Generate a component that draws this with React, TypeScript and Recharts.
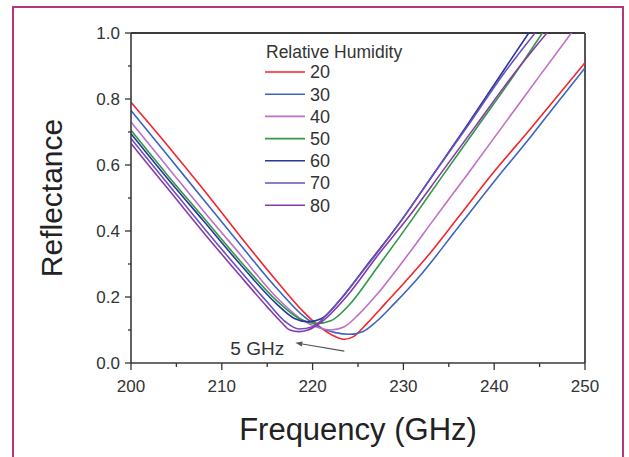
import { LineChart, Line, XAxis, YAxis, Legend, ReferenceLine, ReferenceDot, Label } from "recharts";

// relative humidity levels (%)
const humidityLevels = ["20", "30", "40", "50", "60", "70", "80"];

// frequency (GHz) / reflectance pairs
const freq20 = [200, 204, 208, 212, 216, 219, 221, 222.5, 223.5, 224.5, 226, 228, 230, 233, 236, 240, 244, 247, 250];
const refl20 = [0.79, 0.66, 0.525, 0.385, 0.25, 0.155, 0.105, 0.08, 0.072, 0.08, 0.12, 0.18, 0.24, 0.335, 0.44, 0.58, 0.71, 0.81, 0.91];

const freq30 = [200, 204, 208, 212, 216, 219, 221, 222.5, 224, 225.5, 227, 229, 232, 236, 240, 244, 247, 250];
const refl30 = [0.765, 0.63, 0.495, 0.36, 0.228, 0.142, 0.105, 0.092, 0.087, 0.095, 0.125, 0.18, 0.27, 0.41, 0.55, 0.685, 0.79, 0.894];

const freq40 = [200, 204, 208, 212, 216, 219, 220.5, 222, 223.5, 225, 227, 230, 233.3, 237, 241, 245, 248.5];
const refl40 = [0.73, 0.595, 0.46, 0.33, 0.2, 0.128, 0.108, 0.1, 0.11, 0.145, 0.205, 0.31, 0.433, 0.57, 0.72, 0.87, 1.0];

const freq50 = [200, 204, 208, 212, 216, 218.5, 220.5, 222, 224, 227, 230.9, 234, 238, 242, 245.3];
const refl50 = [0.705, 0.57, 0.44, 0.31, 0.19, 0.135, 0.12, 0.128, 0.175, 0.285, 0.433, 0.555, 0.71, 0.865, 1.0];

const freq60 = [200, 204, 208, 212, 216, 218, 219.5, 221, 223, 226, 229.8, 233, 237, 241, 243.8];
const refl60 = [0.695, 0.56, 0.43, 0.3, 0.18, 0.135, 0.125, 0.135, 0.19, 0.297, 0.433, 0.56, 0.72, 0.885, 1.0];

const freq70 = [200, 204, 208, 212, 215, 217, 218.5, 220, 222, 225, 229.8, 233, 237, 241, 244.5];
const refl70 = [0.68, 0.545, 0.41, 0.28, 0.185, 0.125, 0.103, 0.11, 0.16, 0.26, 0.433, 0.56, 0.715, 0.875, 1.0];

const freq80 = [200, 204, 208, 212, 215, 216.5, 217.5, 218.5, 219.5, 221, 224, 227, 230.5, 234, 238, 242, 245.8];
const refl80 = [0.665, 0.53, 0.395, 0.265, 0.17, 0.125, 0.1, 0.095, 0.1, 0.125, 0.21, 0.32, 0.44, 0.57, 0.72, 0.87, 1.0];

const freqs = [freq20, freq30, freq40, freq50, freq60, freq70, freq80];
const refls = [refl20, refl30, refl40, refl50, refl60, refl70, refl80];

// axis ticks
const xTicks = [200, 205, 210, 215, 220, 225, 230, 235, 240, 245, 250];
const xMajor = [200, 210, 220, 230, 240, 250];
const yTicks = [0, 0.1, 0.2, 0.3, 0.4, 0.5, 0.6, 0.7, 0.8, 0.9, 1.0];
const yMajor = [0, 0.2, 0.4, 0.6, 0.8, 1.0];

// annotation
const arrowTail = { f: 223.5, r: 0.036 };
const arrowTip = { f: 218.1, r: 0.061 };
const noteAt = { f: 213.9, r: 0.045 };

const colors = ["#f2262b", "#3a66c2", "#c06ec6", "#2f9946", "#28379a", "#6a50c0", "#8a3aa6"];
const FONT = "'Liberation Sans', Arial, sans-serif";
const INK = "#333";

const series = humidityLevels.map((h, i) => ({
  name: h,
  data: freqs[i].map((f, j) => ({ f, r: refls[i][j] })),
}));

const XTick = ({ x, y, payload }: any) => {
  const major = xMajor.includes(payload.value);
  return (
    <g>
      <line x1={x} x2={x} y1={y} y2={y + (major ? 7 : 4)} stroke={INK} strokeWidth={1.3} />
      {major && (
        <text x={x} y={y + 29} textAnchor="middle" fontSize={17} fill={INK} fontFamily={FONT}>
          {payload.value}
        </text>
      )}
    </g>
  );
};

const YTick = ({ x, y, payload }: any) => {
  const major = yMajor.includes(payload.value);
  return (
    <g>
      <line x1={x} x2={x - (major ? 6 : 3)} y1={y} y2={y} stroke={INK} strokeWidth={1.3} />
      {major && (
        <text x={x - 11} y={y} dy="0.35em" textAnchor="end" fontSize={17} fill={INK} fontFamily={FONT}>
          {payload.value.toFixed(1)}
        </text>
      )}
    </g>
  );
};

const Arrow = ({ x1, y1, x2, y2 }: any) => {
  const a = Math.atan2(y2 - y1, x2 - x1);
  const bx = x2 - 7 * Math.cos(a);
  const by = y2 - 7 * Math.sin(a);
  const px = -Math.sin(a) * 2.6;
  const py = Math.cos(a) * 2.6;
  return (
    <g>
      <line x1={x1} y1={y1} x2={bx} y2={by} stroke="#555" strokeWidth={1.2} />
      <polygon points={`${x2},${y2} ${bx + px},${by + py} ${bx - px},${by - py}`} fill="#555" />
    </g>
  );
};

const LegendBox = () => (
  <svg width={170} height={190} style={{ display: "block" }}>
    <text x={6} y={28} fontSize={17.5} fill={INK} fontFamily={FONT}>Relative Humidity</text>
    {humidityLevels.map((h, i) => (
      <g key={h}>
        <line x1={5} x2={45} y1={42 + i * 22.2} y2={42 + i * 22.2} stroke={colors[i]} strokeWidth={1.6} />
        <text x={50} y={42 + i * 22.2} dy="0.35em" fontSize={18} fill={INK} fontFamily={FONT}>{h}</text>
      </g>
    ))}
  </svg>
);

export default function App() {
  return (
    <div style={{ position: "absolute", left: 0, top: 0, width: 629, height: 457, background: "#fff", overflow: "hidden" }}>
      <div style={{ position: "absolute", left: 12, top: 6, width: 612, height: 470, border: "2px solid #b5357f", boxSizing: "border-box" }} />
      <LineChart width={629} height={457} margin={{ top: 33, right: 44, bottom: 0, left: 0 }} style={{ position: "absolute", left: 0, top: 0 }}>
        <XAxis
          type="number"
          dataKey="f"
          domain={[200, 250]}
          ticks={xTicks}
          interval={0}
          allowDataOverflow
          height={94}
          tickSize={0}
          tickMargin={0}
          tickLine={false}
          tick={<XTick />}
          axisLine={{ stroke: "#3a3a3a", strokeWidth: 1.6 }}
        >
          <Label value="Frequency (GHz)" position="insideBottom" offset={17} fontSize={31} fill="#222" fontFamily={FONT} />
        </XAxis>
        <YAxis
          type="number"
          domain={[0, 1]}
          ticks={yTicks}
          interval={0}
          allowDataOverflow
          width={131}
          tickSize={0}
          tickMargin={0}
          tickLine={false}
          tick={<YTick />}
          axisLine={{ stroke: "#3a3a3a", strokeWidth: 1.6 }}
        >
          <Label value="Reflectance" angle={-90} position="insideLeft" offset={51} fontSize={30} fill="#222" fontFamily={FONT} style={{ textAnchor: "middle" }} />
        </YAxis>
        <ReferenceLine y={1} stroke="#3a3a3a" strokeWidth={2} />
        <ReferenceLine x={250} stroke="#555" strokeWidth={2} />
        {series.map((s, i) => (
          <Line
            key={s.name}
            data={s.data}
            dataKey="r"
            name={s.name}
            type="monotone"
            stroke={colors[i]}
            strokeWidth={1.6}
            dot={false}
            activeDot={false}
            isAnimationActive={false}
          />
        ))}
        <ReferenceLine
          segment={[{ x: arrowTail.f, y: arrowTail.r }, { x: arrowTip.f, y: arrowTip.r }]}
          shape={<Arrow />}
        />
        <ReferenceDot
          x={noteAt.f}
          y={noteAt.r}
          r={0}
          stroke="none"
          fill="none"
          label={{ value: "5 GHz", position: "center", fontSize: 19, fill: INK, fontFamily: FONT }}
        />
        <Legend
          layout="vertical"
          align="center"
          verticalAlign="middle"
          wrapperStyle={{ position: "absolute", left: 260, top: 30, width: 170, height: 190 }}
          content={() => <LegendBox />}
        />
      </LineChart>
    </div>
  );
}
